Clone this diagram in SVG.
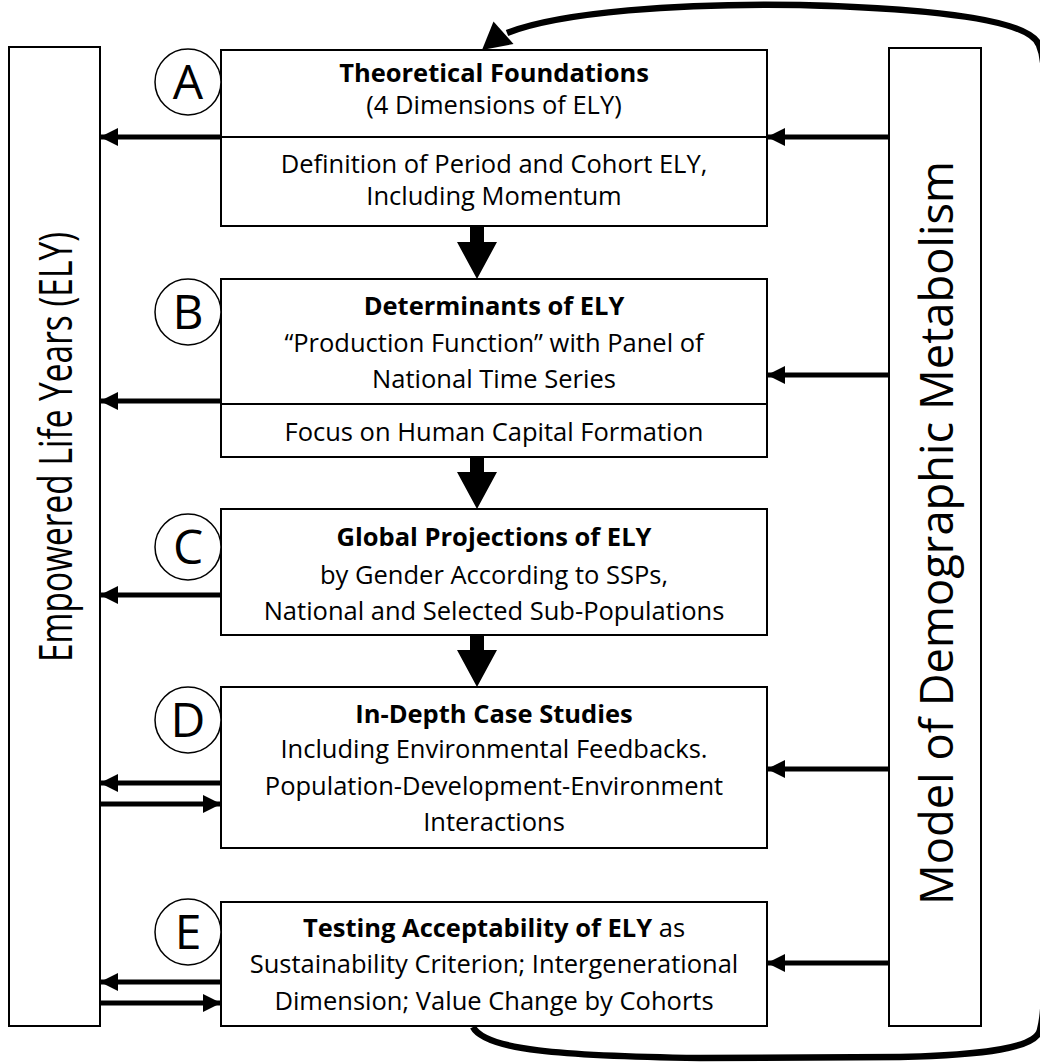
<svg xmlns="http://www.w3.org/2000/svg" width="1040" height="1064" viewBox="0 0 1040 1064">
<defs>
<style>
.box{fill:#fff;stroke:#000;stroke-width:2}
.div{stroke:#000;stroke-width:2}
.t{font-family:"Open Sans","Noto Sans",sans-serif;font-size:25.5px;fill:#000;text-anchor:middle}
.b{font-weight:bold}
.circ{fill:#fff;stroke:#000;stroke-width:1.5}
.lt{font-family:"Open Sans","Noto Sans",sans-serif;font-size:48px;fill:#000;text-anchor:middle}
.big{font-family:"Open Sans","Noto Sans",sans-serif;font-size:45px;fill:#000;text-anchor:middle}
.arr{stroke:#000;stroke-width:5;fill:none;marker-end:url(#ah)}
.down{fill:#000}
.loop{stroke:#000;stroke-width:6.5;fill:none}
</style>
<marker id="ah" markerUnits="userSpaceOnUse" markerWidth="20" markerHeight="20" viewBox="0 0 20 20" refX="18" refY="10" orient="auto">
<path d="M0,1 L18,10 L0,19 Z" fill="#000"/>
</marker>
</defs>

<g id="ely">
<rect class="box" x="9" y="47" width="91" height="979"/>
<text class="big" transform="translate(72,447) rotate(-90)" textLength="430" lengthAdjust="spacingAndGlyphs">Empowered Life Years (ELY)</text>
</g>

<g id="metabolism">
<rect class="box" x="889" y="48" width="92" height="978"/>
<text class="big" font-size="46" transform="translate(953,533) rotate(-90)" textLength="744" lengthAdjust="spacingAndGlyphs">Model of Demographic Metabolism</text>
</g>

<g id="nodeA">
<rect class="box" x="221" y="50" width="546" height="176"/>
<line class="div" x1="221" y1="137" x2="767" y2="137"/>
<text class="t b" x="494" y="82">Theoretical Foundations</text>
<text class="t" x="494" y="114">(4 Dimensions of ELY)</text>
<text class="t" x="494" y="173">Definition of Period and Cohort ELY,</text>
<text class="t" x="494" y="205">Including Momentum</text>
<circle class="circ" cx="188" cy="82" r="33"/>
<text class="lt" x="188" y="99">A</text>
</g>

<g id="nodeB">
<rect class="box" x="221" y="279" width="546" height="178"/>
<line class="div" x1="221" y1="404" x2="767" y2="404"/>
<text class="t b" x="494" y="315">Determinants of ELY</text>
<text class="t" x="494" y="352">“Production Function” with Panel of</text>
<text class="t" x="494" y="388">National Time Series</text>
<text class="t" x="494" y="441">Focus on Human Capital Formation</text>
<circle class="circ" cx="188" cy="312" r="33"/>
<text class="lt" x="188" y="329">B</text>
</g>

<g id="nodeC">
<rect class="box" x="221" y="509" width="546" height="126"/>
<text class="t b" x="494" y="546">Global Projections of ELY</text>
<text class="t" x="494" y="584">by Gender According to SSPs,</text>
<text class="t" x="494" y="620">National and Selected Sub-Populations</text>
<circle class="circ" cx="188" cy="547" r="33"/>
<text class="lt" x="188" y="564">C</text>
</g>

<g id="nodeD">
<rect class="box" x="221" y="687" width="546" height="161"/>
<text class="t b" x="494" y="723">In-Depth Case Studies</text>
<text class="t" x="494" y="758">Including Environmental Feedbacks.</text>
<text class="t" x="494" y="795">Population-Development-Environment</text>
<text class="t" x="494" y="831">Interactions</text>
<circle class="circ" cx="188" cy="720" r="33"/>
<text class="lt" x="188" y="737">D</text>
</g>

<g id="nodeE">
<rect class="box" x="221" y="902" width="546" height="124"/>
<text class="t" x="494" y="937"><tspan class="b">Testing Acceptability of ELY</tspan> as</text>
<text class="t" x="494" y="973">Sustainability Criterion; Intergenerational</text>
<text class="t" x="494" y="1010">Dimension; Value Change by Cohorts</text>
<circle class="circ" cx="188" cy="932" r="33"/>
<text class="lt" x="188" y="949">E</text>
</g>

<g id="connectors">
<line class="arr" x1="221" y1="137" x2="100" y2="137"/>
<line class="arr" x1="221" y1="401" x2="100" y2="401"/>
<line class="arr" x1="221" y1="595" x2="100" y2="595"/>
<line class="arr" x1="221" y1="783" x2="100" y2="783"/>
<line class="arr" x1="100" y1="804" x2="221" y2="804"/>
<line class="arr" x1="221" y1="982" x2="100" y2="982"/>
<line class="arr" x1="100" y1="1003" x2="221" y2="1003"/>

<line class="arr" x1="889" y1="137" x2="767" y2="137"/>
<line class="arr" x1="889" y1="375" x2="767" y2="375"/>
<line class="arr" x1="889" y1="769" x2="767" y2="769"/>
<line class="arr" x1="889" y1="963" x2="767" y2="963"/>

<path class="down" d="M470,226 H484 V242 H497 L477,279 L457,242 H470 Z"/>
<path class="down" d="M470,457 H484 V472 H497 L477,509 L457,472 H470 Z"/>
<path class="down" d="M470,635 H484 V650 H497 L477,687 L457,650 H470 Z"/>

<path class="loop" d="M473,1027 C485,1050 560,1056 700,1058 L900,1057 C985,1055 1036,1048 1040,1030 C1042,1022 1043.5,1015 1043.5,1000 L1043.5,70 C1043.5,58 1042,52 1039,45 C1030,22 950,9 800,5 C680,3 560,12 507,33"/>
<path d="M482,50 L493.5,21.5 L513.5,44 Z" fill="#000"/>
</g>
</svg>
